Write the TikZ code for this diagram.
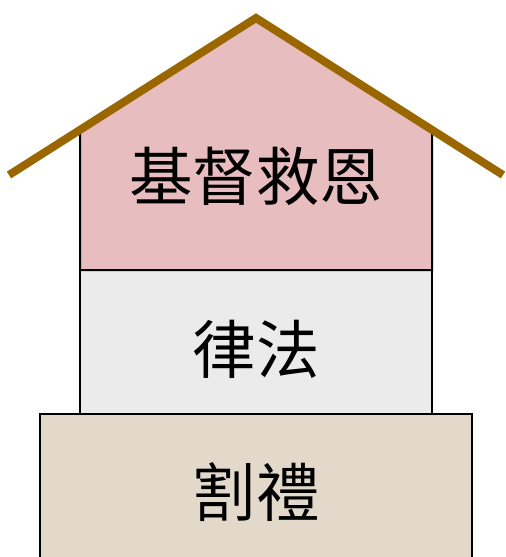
\documentclass[tikz,border=0pt]{standalone}
\usepackage{fontspec}
\newfontfamily\cjk{Noto Sans CJK TC}
\definecolor{roofbrown}{HTML}{9A6600}
\definecolor{pinkfill}{HTML}{E8BDBF}
\definecolor{grayfill}{HTML}{EBEBEB}
\definecolor{beigefill}{HTML}{E2D9CB}
\tikzset{
  layer/.style={draw=black, line width=2pt},
  label/.style={font=\cjk\fontsize{63.5}{63.5}\selectfont, text=black, inner sep=0pt},
  roof/.style={draw=roofbrown, line width=8pt, line join=miter}
}
\begin{document}
\begin{tikzpicture}[x=1pt,y=-1pt]
\useasboundingbox (0,0) rectangle (506,557);
% bottom layer
\path[layer, fill=beigefill] (40,570) -- (40,414) -- (472,414) -- (472,570);
\fill[beigefill] (41,415) rectangle (471,570);
\node[label] (gelin) at (256,492) {割禮};
% middle layer
\path[layer, fill=grayfill] (80,270) rectangle (432,414);
\node[label] (lvfa) at (256,349) {律法};
% top layer
\path[layer, fill=pinkfill] (80,270) -- (80,129) -- (256,17) -- (432,129) -- (432,270) -- cycle;
\node[label] (jidu) at (256,176) {基督救恩};
% roof
\draw[roof] (9,175) -- (256,18) -- (503,175);
\end{tikzpicture}
\end{document}
